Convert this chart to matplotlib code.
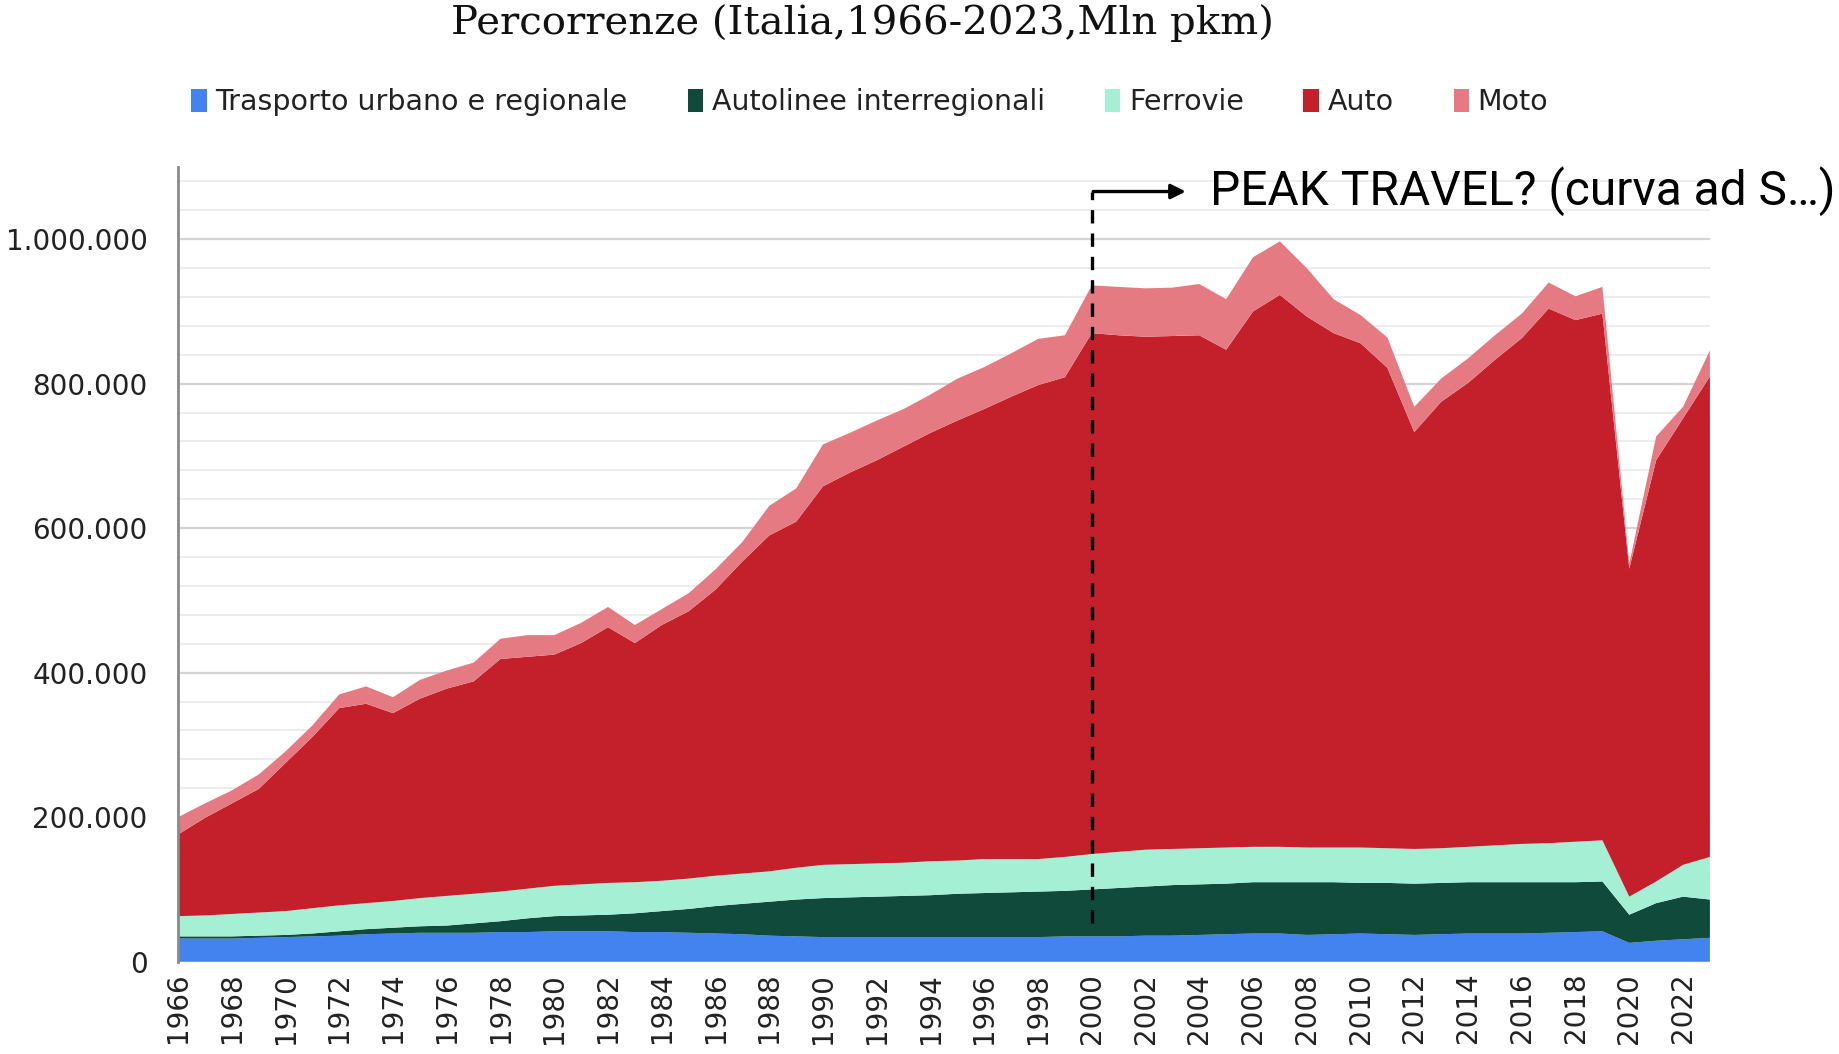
import numpy as np
import matplotlib
matplotlib.use("Agg")
import matplotlib.pyplot as plt
from matplotlib.patches import Patch
from matplotlib.ticker import FuncFormatter, MultipleLocator

# anni 1966-2023, valori in migliaia di Mln pkm
years = list(range(1966, 2024))

urbano = [32, 32, 32, 33, 34, 35, 36, 38, 39, 40, 40, 40, 41, 41, 42, 42, 42, 41, 41, 40,
          39, 38, 36, 35, 34, 34, 34, 34, 34, 34, 34, 34, 34, 35, 35, 35, 36, 36, 37, 38,
          39, 39, 37, 38, 39, 38, 37, 38, 39, 39, 39, 40, 41, 42, 26, 29, 31, 33]
autolinee = [3, 3, 3, 3, 3, 4, 6, 7, 8, 9, 10, 13, 15, 19, 21, 22, 23, 26, 29, 33,
             38, 42, 47, 51, 54, 55, 56, 57, 58, 60, 61, 62, 63, 63, 65, 67, 68, 70, 70, 70,
             71, 71, 73, 72, 70, 71, 71, 71, 71, 71, 71, 70, 69, 69, 39, 52, 59, 53]
ferrovie = [28, 29, 31, 32, 33, 35, 36, 36, 37, 39, 41, 41, 41, 41, 42, 43, 44, 43, 42, 42,
            42, 42, 42, 44, 46, 46, 46, 46, 47, 46, 47, 46, 45, 47, 49, 50, 51, 50, 50, 50,
            49, 49, 48, 48, 49, 48, 48, 48, 49, 51, 53, 54, 56, 57, 25, 30, 44, 59]
auto = [113, 135, 153, 171, 205, 237, 273, 276, 260, 276, 287, 294, 322, 321, 320, 334, 354, 331, 354, 370,
        396, 432, 465, 479, 524, 542, 558, 576, 593, 609, 623, 640, 656, 664, 721, 715, 710, 710, 710, 689,
        741, 764, 735, 712, 698, 665, 577, 618, 642, 672, 700, 740, 722, 729, 454, 583, 618, 665]
moto = [24, 20, 18, 20, 16, 16, 19, 24, 22, 26, 25, 26, 28, 30, 27, 28, 28, 25, 22, 25,
        28, 27, 41, 46, 58, 55, 55, 52, 53, 58, 58, 60, 64, 58, 66, 67, 67, 67, 71, 70,
        75, 74, 67, 47, 39, 42, 35, 32, 34, 34, 34, 36, 33, 37, 7, 33, 16, 36]

labels = ["Trasporto urbano e regionale", "Autolinee interregionali", "Ferrovie", "Auto", "Moto"]
colors = ["#4283ef", "#0f4a3a", "#a5f0d5", "#c4202c", "#e67a83"]

fig = plt.figure(figsize=(18.39, 10.54), dpi=100)
ax = fig.add_axes([0.0968, 0.0876, 0.833, 0.754])

series = [np.array(s) * 1000 for s in [urbano, autolinee, ferrovie, auto, moto]]
ax.stackplot(years, *series, colors=colors, linewidth=0, zorder=2)

ax.set_xlim(1966, 2023)
ax.set_ylim(0, 1100000)
ax.yaxis.set_major_locator(MultipleLocator(200000))
ax.yaxis.set_minor_locator(MultipleLocator(40000))
ax.yaxis.set_major_formatter(FuncFormatter(lambda v, p: f"{int(v):,}".replace(",", ".")))
ax.grid(axis="y", which="major", color="#d4d4d4", linewidth=1.6, zorder=0)
ax.grid(axis="y", which="minor", color="#ececec", linewidth=1.4, zorder=0)
ax.set_axisbelow(True)

ax.set_xticks(years[::2])
ax.set_xticklabels([str(y) for y in years[::2]], rotation=90)
ax.tick_params(axis="x", length=0, pad=8, labelsize=20, labelcolor="#222222")
ax.tick_params(axis="y", which="both", length=0, pad=22, labelsize=20, labelcolor="#222222")

for s in ["top", "right", "bottom"]:
    ax.spines[s].set_visible(False)
ax.spines["left"].set_color("#8a8a8a")
ax.spines["left"].set_linewidth(2)

# annotazione peak travel
ax.plot([2000, 2000], [54000, 1066000], color="black", lw=2.4, ls=(0, (4, 3)), zorder=5)
ax.annotate("", xy=(2003.6, 1066000), xytext=(1999.95, 1066000),
            arrowprops=dict(arrowstyle="-|>", color="black", lw=2.4, mutation_scale=22),
            zorder=5)
ax.text(2004.4, 1066000, "PEAK TRAVEL? (curva ad S\u2026)", fontsize=34.5, family="Roboto",
        va="center", ha="left", color="black", zorder=6)

fig.text(0.469, 0.978, "Percorrenze (Italia,1966-2023,Mln pkm)", fontsize=29,
         family="DejaVu Serif", ha="center", va="center", color="#111111")

handles = [Patch(facecolor=c, edgecolor="none") for c in colors]
fig.legend(handles, labels, loc="center", bbox_to_anchor=(0.473, 0.903), ncol=5,
           frameon=False, fontsize=20.5, handlelength=0.55, handleheight=0.9,
           handletextpad=0.3, columnspacing=2.1, labelcolor="#222222")

fig.savefig("out.png", dpi=100)
